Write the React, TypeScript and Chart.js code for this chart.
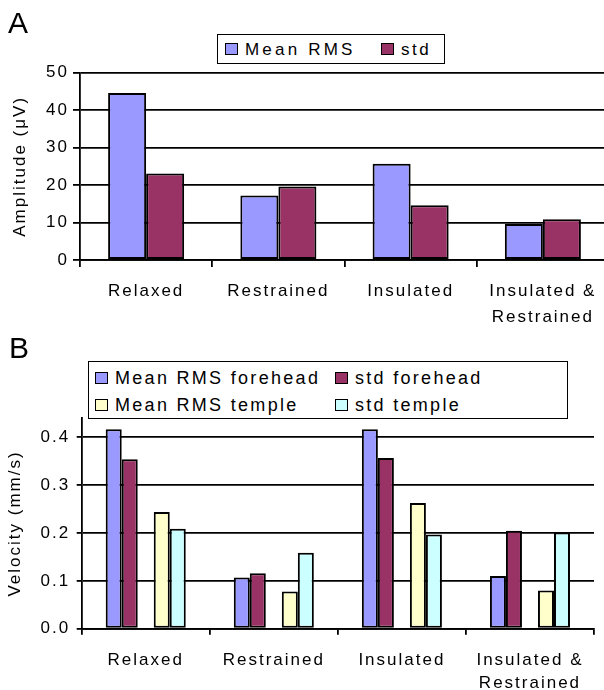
import React, { useEffect, useRef } from "react";
import { Chart, registerables } from "chart.js";

Chart.register(...registerables);

// ---- data ----
const categories = [["Relaxed"], ["Restrained"], ["Insulated"], ["Insulated &", "Restrained"]];
const ampSeriesLabels = ["Mean RMS", "std"];
const ampMeanRMS = [44.6, 17.2, 25.7, 9.6];
const ampStd = [23.1, 19.6, 14.6, 10.9];
const ampTicks = [0, 10, 20, 30, 40, 50];

const velSeriesLabels = ["Mean RMS forehead", "std forehead", "Mean RMS temple", "std temple"];
const velMeanForehead = [0.417, 0.107, 0.417, 0.11];
const velStdForehead = [0.354, 0.116, 0.357, 0.205];
const velMeanTemple = [0.244, 0.078, 0.263, 0.08];
const velStdTemple = [0.209, 0.159, 0.197, 0.201];
const velTicks = [0, 0.1, 0.2, 0.3, 0.4];

const FONT = "'Liberation Sans', Arial, sans-serif";
const C_MEAN = "#9999FF";
const C_STD = "#993366";
const C_MEAN_T = "#FFFFCC";
const C_STD_T = "#CCFFFF";

const spacingPlugin = {
  id: "letterSpacing",
  beforeUpdate(chart: any) {
    chart.ctx.letterSpacing = "2px";
  },
  beforeDraw(chart: any) {
    chart.ctx.letterSpacing = "2px";
  },
};

function barDs(label: string, data: (number | null)[], color: string) {
  return {
    label,
    data,
    backgroundColor: color,
    borderColor: "#000",
    borderWidth: 2,
    borderSkipped: false as any,
  };
}

function LegendItem({ color, text, left, top, size, spacing }: any) {
  return (
    <div
      style={{
        position: "absolute",
        left,
        top,
        display: "flex",
        alignItems: "center",
        height: 20,
        transform: "translateY(-50%)",
        whiteSpace: "nowrap",
      }}
    >
      <span
        style={{
          display: "inline-block",
          width: 13,
          height: 12,
          boxSizing: "border-box",
          border: "1.5px solid #000",
          background: color,
          marginRight: 7,
        }}
      />
      <span style={{ fontSize: size, letterSpacing: spacing, color: "#000", lineHeight: 1 }}>{text}</span>
    </div>
  );
}

export default function App() {
  const refA = useRef<HTMLCanvasElement>(null);
  const refB = useRef<HTMLCanvasElement>(null);

  useEffect(() => {
    Chart.defaults.font.family = FONT;
    Chart.defaults.color = "#000";

    const chartA = new Chart(refA.current as HTMLCanvasElement, {
      type: "bar",
      data: {
        labels: categories,
        datasets: [barDs(ampSeriesLabels[0], ampMeanRMS, C_MEAN), barDs(ampSeriesLabels[1], ampStd, C_STD)],
      },
      plugins: [spacingPlugin],
      options: {
        responsive: false,
        maintainAspectRatio: false,
        animation: false,
        layout: { padding: { left: 0, top: 72.7, right: 11, bottom: 0 } },
        plugins: { legend: { display: false }, tooltip: { enabled: false }, title: { display: false } },
        datasets: { bar: { categoryPercentage: 0.575, barPercentage: 1 } },
        scales: {
          x: {
            offset: true,
            grid: {
              display: true,
              offset: true,
              drawOnChartArea: false,
              drawTicks: true,
              tickLength: 7,
              color: "#000",
              lineWidth: 1.8,
            },
            border: { display: true, color: "#000", width: 1.8 },
            ticks: {
              color: "#000",
              font: { size: 17, lineHeight: 1.55 },
              padding: 11,
              maxRotation: 0,
              autoSkip: false,
            },
            afterFit: (s: any) => {
              s.height = 75;
            },
          },
          y: {
            min: ampTicks[0],
            max: ampTicks[ampTicks.length - 1],
            afterBuildTicks: (s: any) => {
              s.ticks = ampTicks.map((v) => ({ value: v }));
            },
            ticks: { color: "#000", font: { size: 17 }, padding: 4 },
            grid: { color: "#000", lineWidth: 1.8, tickLength: 7, drawTicks: true },
            border: { display: true, color: "#000", width: 1.8 },
            title: {
              display: true,
              text: "Amplitude (μV)",
              color: "#000",
              font: { size: 17 },
              padding: { top: 10, bottom: 0 },
            },
            afterFit: (s: any) => {
              s.width = 80;
            },
          },
        },
      } as any,
    });

    const chartB = new Chart(refB.current as HTMLCanvasElement, {
      type: "bar",
      data: {
        labels: categories,
        datasets: [
          barDs(velSeriesLabels[0], velMeanForehead, C_MEAN),
          barDs(velSeriesLabels[1], velStdForehead, C_STD),
          barDs("", [null, null, null, null], "rgba(0,0,0,0)"),
          barDs(velSeriesLabels[2], velMeanTemple, C_MEAN_T),
          barDs(velSeriesLabels[3], velStdTemple, C_STD_T),
        ],
      },
      plugins: [spacingPlugin],
      options: {
        responsive: false,
        maintainAspectRatio: false,
        animation: false,
        layout: { padding: { left: 0, top: 83.2, right: 10, bottom: 0 } },
        plugins: { legend: { display: false }, tooltip: { enabled: false }, title: { display: false } },
        datasets: { bar: { categoryPercentage: 0.625, barPercentage: 1 } },
        scales: {
          x: {
            offset: true,
            grid: {
              display: true,
              offset: true,
              drawOnChartArea: false,
              drawTicks: true,
              tickLength: 6,
              color: "#000",
              lineWidth: 1.8,
            },
            border: { display: true, color: "#000", width: 1.8 },
            ticks: {
              color: "#000",
              font: { size: 17, lineHeight: 1.4 },
              padding: 13.4,
              maxRotation: 0,
              autoSkip: false,
            },
            afterFit: (s: any) => {
              s.height = 61.3;
            },
          },
          y: {
            min: 0,
            max: 0.44,
            afterBuildTicks: (s: any) => {
              s.ticks = velTicks.map((v) => ({ value: v }));
            },
            ticks: {
              color: "#000",
              font: { size: 17 },
              padding: 6.5,
              callback: (v: any) => Number(v).toFixed(1),
            },
            grid: { color: "#000", lineWidth: 1.8, tickLength: 5, drawTicks: true },
            border: { display: true, color: "#000", width: 1.8 },
            title: {
              display: true,
              text: "Velocity (mm/s)",
              color: "#000",
              font: { size: 17 },
              padding: { top: 5.6, bottom: 0 },
            },
            afterFit: (s: any) => {
              s.width = 81.7;
            },
          },
        },
      } as any,
    });

    return () => {
      chartA.destroy();
      chartB.destroy();
    };
  }, []);

  return (
    <div
      style={{
        position: "fixed",
        left: 0,
        top: 0,
        width: 604,
        height: 690,
        overflow: "hidden",
        background: "#fff",
        fontFamily: FONT,
        color: "#000",
      }}
    >
      <canvas
        ref={refA}
        width={620}
        height={335}
        style={{ position: "absolute", left: 0, top: 0, width: 620, height: 335 }}
      />
      <canvas
        ref={refB}
        width={604}
        height={355}
        style={{ position: "absolute", left: 0, top: 335, width: 604, height: 355 }}
      />
      <div style={{ position: "absolute", left: 8, top: 7.8, fontSize: 30, lineHeight: 1 }}>A</div>
      <div style={{ position: "absolute", left: 9, top: 332.8, fontSize: 30, lineHeight: 1 }}>B</div>

      <div
        style={{
          position: "absolute",
          left: 217,
          top: 34,
          width: 228,
          height: 30,
          boxSizing: "border-box",
          border: "1.8px solid #000",
          background: "#fff",
        }}
      >
        <LegendItem color={C_MEAN} text={ampSeriesLabels[0]} left={7} top={14} size={17} spacing="3.2px" />
        <LegendItem color={C_STD} text={ampSeriesLabels[1]} left={163} top={14} size={17} spacing="2.5px" />
      </div>

      <div
        style={{
          position: "absolute",
          left: 88,
          top: 361,
          width: 480,
          height: 58,
          boxSizing: "border-box",
          border: "1.8px solid #000",
          background: "#fff",
        }}
      >
        <LegendItem color={C_MEAN} text={velSeriesLabels[0]} left={6} top={15.5} size={18} spacing="2.3px" />
        <LegendItem color={C_STD} text={velSeriesLabels[1]} left={246} top={15.5} size={18} spacing="2.3px" />
        <LegendItem color={C_MEAN_T} text={velSeriesLabels[2]} left={6} top={42.5} size={18} spacing="2.3px" />
        <LegendItem color={C_STD_T} text={velSeriesLabels[3]} left={246} top={42.5} size={18} spacing="2.3px" />
      </div>
    </div>
  );
}
